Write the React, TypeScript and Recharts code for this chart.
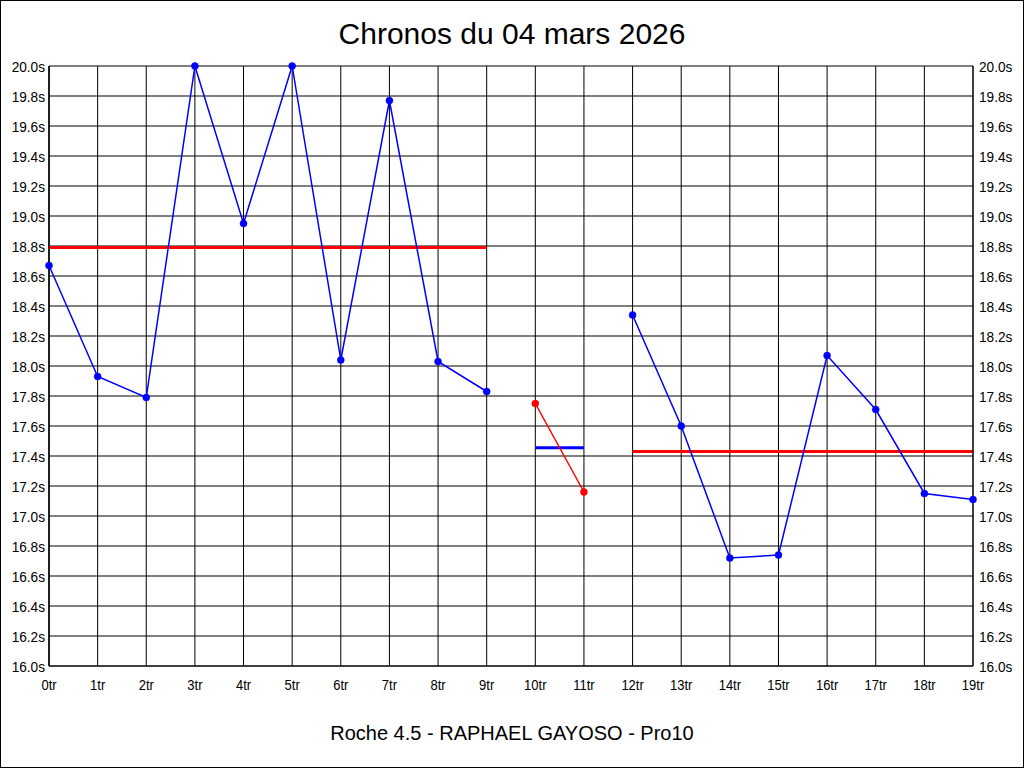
import React from 'react';
import { LineChart, Line, XAxis, YAxis, CartesianGrid } from 'recharts';

const categories = ['0tr','1tr','2tr','3tr','4tr','5tr','6tr','7tr','8tr','9tr','10tr','11tr','12tr','13tr','14tr','15tr','16tr','17tr','18tr','19tr'];
const series1: (number | null)[] = [18.67, 17.93, 17.79, 20.0, 18.95, 20.0, 18.04, 19.77, 18.03, 17.83, null, null, null, null, null, null, null, null, null, null];
const series2: (number | null)[] = [null, null, null, null, null, null, null, null, null, null, 17.75, 17.16, null, null, null, null, null, null, null, null];
const series3: (number | null)[] = [null, null, null, null, null, null, null, null, null, null, null, null, 18.34, 17.60, 16.72, 16.74, 18.07, 17.71, 17.15, 17.11];
const mean1: (number | null)[] = [18.79, 18.79, 18.79, 18.79, 18.79, 18.79, 18.79, 18.79, 18.79, 18.79, null, null, null, null, null, null, null, null, null, null];
const mean2: (number | null)[] = [null, null, null, null, null, null, null, null, null, null, 17.455, 17.455, null, null, null, null, null, null, null, null];
const mean3: (number | null)[] = [null, null, null, null, null, null, null, null, null, null, null, null, 17.43, 17.43, 17.43, 17.43, 17.43, 17.43, 17.43, 17.43];
const yTicks = [16.0, 16.2, 16.4, 16.6, 16.8, 17.0, 17.2, 17.4, 17.6, 17.8, 18.0, 18.2, 18.4, 18.6, 18.8, 19.0, 19.2, 19.4, 19.6, 19.8, 20.0];
const title = 'Chronos du 04 mars 2026';
const subtitle = 'Roche 4.5 - RAPHAEL GAYOSO - Pro10';

const data = categories.map((c, i) => ({
  name: c,
  s1: series1[i],
  s2: series2[i],
  s3: series3[i],
  m1: mean1[i],
  m2: mean2[i],
  m3: mean3[i],
}));

const tickFont = "'Liberation Sans', Arial, sans-serif";
const fmt = (v: number) => v.toFixed(1) + 's';
const BLUE = '#0000ff';
const RED = '#ff0000';

const makeTick = (side: 'left' | 'right' | 'bottom') => (props: any) => {
  const { x, y, payload } = props;
  const label = side === 'bottom' ? payload.value : fmt(payload.value);
  let anchor = 'middle';
  let tx = x;
  let ty = y;
  let fs = 15.5;
  let sx = 0.84;
  if (side === 'left') { anchor = 'end'; tx = x + 4; ty = y + 5.5; sx = 0.88; }
  if (side === 'right') { anchor = 'start'; tx = x - 2; ty = y + 5.5; sx = 0.88; }
  if (side === 'bottom') { ty = y + 16; }
  return (
    <g transform={`translate(${tx},${ty})`}>
      <text x={0} y={0} transform={`scale(${sx},1)`} textAnchor={anchor} fill="#000" fontSize={fs} fontFamily={tickFont}>{label}</text>
    </g>
  );
};

export default function App() {
  return (
    <div style={{ position: 'absolute', left: 0, top: 0, width: 1024, height: 768, background: '#fff', fontFamily: "'Liberation Sans', Arial, sans-serif" }}>
      <div style={{ position: 'absolute', left: 0, top: 0, width: 1022, height: 766, border: '1px solid #000' }} />
      <div style={{ position: 'absolute', left: 0, top: 16, width: 1024, textAlign: 'center', fontSize: 30, color: '#000', lineHeight: '36px' }}>{title}</div>
      <div style={{ position: 'absolute', left: 0, top: 720, width: 1024, textAlign: 'center', fontSize: 20, color: '#000', lineHeight: '26px' }}>{subtitle}</div>
      <div style={{ position: 'absolute', left: 0, top: 0 }}>
        <LineChart width={1024} height={768} data={data} margin={{ top: 66, right: 0, bottom: 72, left: 0 }}>
          <CartesianGrid yAxisId="l" stroke="#000" strokeWidth={1} vertical horizontal />
          <XAxis dataKey="name" scale="point" padding={{ left: 0, right: 0 }} interval={0} tickLine={false} axisLine={{ stroke: '#000' }} height={30} tick={makeTick('bottom')} />
          <YAxis yAxisId="l" domain={[16, 20]} ticks={yTicks} interval={0} width={49} tickLine={false} axisLine={{ stroke: '#000' }} tick={makeTick('left')} />
          <YAxis yAxisId="r" orientation="right" domain={[16, 20]} ticks={yTicks} interval={0} width={51} tickLine={false} axisLine={{ stroke: '#000' }} tick={makeTick('right')} />
          <Line yAxisId="r" dataKey="m1" stroke={RED} strokeWidth={3} dot={false} isAnimationActive={false} connectNulls={false} />
          <Line yAxisId="r" dataKey="m2" stroke={BLUE} strokeWidth={3} dot={false} isAnimationActive={false} connectNulls={false} />
          <Line yAxisId="r" dataKey="m3" stroke={RED} strokeWidth={3} dot={false} isAnimationActive={false} connectNulls={false} />
          <Line yAxisId="l" dataKey="s1" stroke={BLUE} strokeWidth={1.5} dot={{ r: 3.5, fill: BLUE, stroke: BLUE, strokeWidth: 0.5 }} isAnimationActive={false} connectNulls={false} />
          <Line yAxisId="l" dataKey="s2" stroke={RED} strokeWidth={1.5} dot={{ r: 3.5, fill: RED, stroke: RED, strokeWidth: 0.5 }} isAnimationActive={false} connectNulls={false} />
          <Line yAxisId="l" dataKey="s3" stroke={BLUE} strokeWidth={1.5} dot={{ r: 3.5, fill: BLUE, stroke: BLUE, strokeWidth: 0.5 }} isAnimationActive={false} connectNulls={false} />
        </LineChart>
      </div>
    </div>
  );
}
